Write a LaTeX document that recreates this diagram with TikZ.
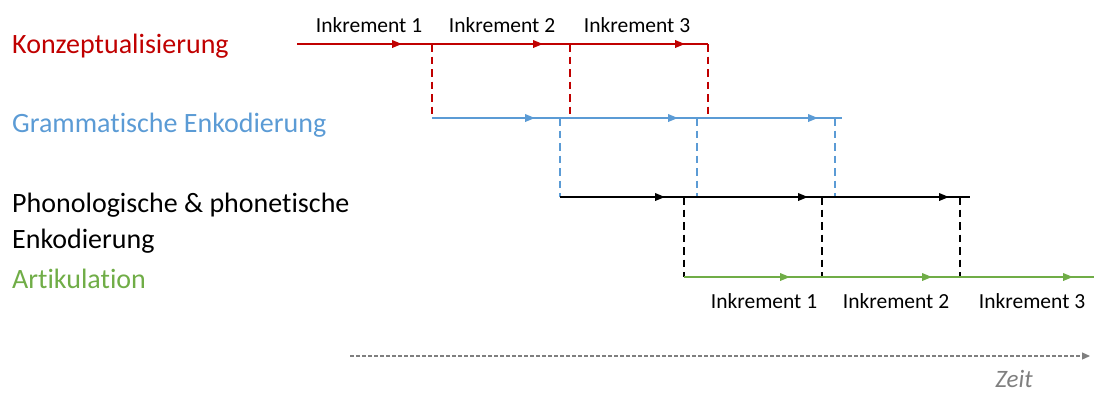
\documentclass[tikz,border=0pt]{standalone}
\usepackage{fontspec}
\setmainfont{Carlito}[Ligatures=NoCommon]
\usetikzlibrary{arrows.meta,decorations.markings}
\definecolor{konz}{HTML}{C00000}
\definecolor{gram}{HTML}{5B9BD5}
\definecolor{artik}{HTML}{70AD47}
\definecolor{zeitgray}{HTML}{7F7F7F}
\begin{document}
\begin{tikzpicture}[x=1pt,y=-1pt,
  seg/.style={line width=2pt, postaction={decorate},
    decoration={markings, mark=at position #1 with {\arrow{Triangle[length=10pt,width=7.5pt]}}}},
  link/.style={line width=1.9pt, dash pattern=on 7.5pt off 5pt},
  stage/.style={anchor=base west, inner sep=0pt, font=\fontsize{28}{34}\selectfont},
  inc/.style={anchor=base, inner sep=0pt, font=\fontsize{21.5}{24}\selectfont}]
\useasboundingbox (0,0) rectangle (1094,392);

% stage labels
\node[stage, text=konz] (lk) at (12,53) {Konzeptualisierung};
\node[stage, text=gram] (lg) at (12,132) {Grammatische Enkodierung};
\node[stage] (lp) at (12,212) {Phonologische \& phonetische};
\node[stage] (lp2) at (12,248) {Enkodierung};
\node[stage, text=artik] (la) at (12,288) {Artikulation};

% time points of each stage
\coordinate (r0) at (297,44);  \coordinate (r1) at (432,44);
\coordinate (r2) at (570,44);  \coordinate (r3) at (708,44);
\coordinate (b0) at (432,118); \coordinate (b1) at (560,118);
\coordinate (b2) at (697,118); \coordinate (b3) at (835,118);
\coordinate (bE) at (842,118);
\coordinate (br2) at (570,118); \coordinate (br3) at (708,118);
\coordinate (k0) at (560,197); \coordinate (k1) at (684,197);
\coordinate (k2) at (822,197); \coordinate (k3) at (960,197);
\coordinate (kE) at (970,197);
\coordinate (kb2) at (697,197); \coordinate (kb3) at (835,197);
\coordinate (g0) at (684,277); \coordinate (g1) at (822,277);
\coordinate (g2) at (960,277); \coordinate (gE) at (1094,277);

% Konzeptualisierung
\draw[konz, seg=105pt] (r0) -- (r1);
\draw[konz, seg=111pt] (r1) -- (r2);
\draw[konz, seg=115pt] (r2) -- (r3);
\draw[konz, link] (r1) -- (b0);
\draw[konz, link] (r2) -- (br2);
\draw[konz, link] (r3) -- (br3);

% Grammatische Enkodierung
\draw[gram, seg=103pt] (b0) -- (b1);
\draw[gram, seg=118pt] (b1) -- (b2);
\draw[gram, seg=121pt] (b2) -- (bE);
\draw[gram, link] (b1) -- (k0);
\draw[gram, link] (b2) -- (kb2);
\draw[gram, link] (b3) -- (kb3);

% Phonologische & phonetische Enkodierung
\draw[black, line width=2.2pt, seg=105pt] (k0) -- (k1);
\draw[black, line width=2.2pt, seg=124pt] (k1) -- (k2);
\draw[black, line width=2.2pt, seg=127pt] (k2) -- (kE);
\draw[black, link] (k1) -- (g0);
\draw[black, link] (k2) -- (g1);
\draw[black, link] (k3) -- (g2);

% Artikulation
\draw[artik, seg=106pt] (g0) -- (g1);
\draw[artik, seg=110pt] (g1) -- (g2);
\draw[artik, seg=113pt] (g2) -- (gE);

% increment labels
\node[inc] (i1) at (369,32) {Inkrement 1};
\node[inc] (i2) at (502,32) {Inkrement 2};
\node[inc] (i3) at (637,32) {Inkrement 3};
\node[inc] (j1) at (764,308) {Inkrement 1};
\node[inc] (j2) at (896,308) {Inkrement 2};
\node[inc] (j3) at (1032,308) {Inkrement 3};

% time axis
\coordinate (t0) at (350,356);
\coordinate (t1) at (1090,356);
\draw[zeitgray, line width=1.2pt, dash pattern=on 4pt off 2pt,
  -{Triangle[length=8pt,width=7pt]}] (t0) -- (t1);
\node[anchor=base, inner sep=0pt, text=zeitgray, font=\fontsize{25}{28}\selectfont\itshape] (zeit) at (1014,387) {Zeit};
\end{tikzpicture}
\end{document}
